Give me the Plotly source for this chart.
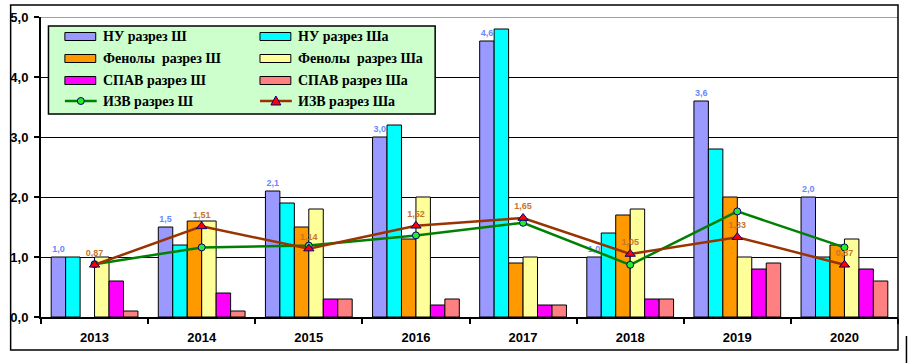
import plotly.graph_objects as go

# ---------------- data ----------------
years = ["2013", "2014", "2015", "2016", "2017", "2018", "2019", "2020"]
nu_3 = [1.0, 1.5, 2.1, 3.0, 4.6, 1.0, 3.6, 2.0]
nu_3a = [1.0, 1.2, 1.9, 3.2, 4.8, 1.4, 2.8, 1.0]
phen_3 = [None, 1.6, 1.5, 1.3, 0.9, 1.7, 2.0, 1.2]
phen_3a = [1.0, 1.6, 1.8, 2.0, 1.0, 1.8, 1.0, 1.3]
spav_3 = [0.6, 0.4, 0.3, 0.2, 0.2, 0.3, 0.8, 0.8]
spav_3a = [0.1, 0.1, 0.3, 0.3, 0.2, 0.3, 0.9, 0.6]
izv_3 = [0.88, 1.16, 1.19, 1.36, 1.57, 0.87, 1.76, 1.16]
izv_3a = [0.87, 1.51, 1.14, 1.52, 1.65, 1.05, 1.33, 0.87]

bar_names = ["НУ разрез Ш", "НУ разрез Ша", "Фенолы  разрез Ш", "Фенолы  разрез Ша",
             "СПАВ разрез Ш", "СПАВ разрез Ша"]
line_names = ["ИЗВ разрез Ш", "ИЗВ разрез Ша"]
bar_colors = ["#9999FF", "#00FFFF", "#FF9900", "#FFFF99", "#FF00FF", "#FF8080"]
y_ticks = [0, 1, 2, 3, 4, 5]

# ---------------- figure ----------------
W, H = 908, 363
L, R, T, B = 37, 898, 17, 317
PW, PH = R - L, B - T


def px(x):
    return (x - L) / PW


def py(y):
    return (B - y) / PH


fig = go.Figure()
bar_series = [nu_3, nu_3a, phen_3, phen_3a, spav_3, spav_3a]
for i, (name, vals, col) in enumerate(zip(bar_names, bar_series, bar_colors)):
    kw = {}
    if i == 0:
        kw = dict(texttemplate="%{y:.1f}", textposition="outside",
                  textfont=dict(family="Liberation Sans", size=9, color="#6688FF", weight="bold"),
                  constraintext="none", cliponaxis=False)
    fig.add_trace(go.Bar(x=years, y=vals, name=name, marker=dict(color=col, line=dict(color="black", width=1)),
                         showlegend=False, **kw))

fig.add_trace(go.Scatter(x=years, y=izv_3, name=line_names[0], mode="lines+markers",
                         line=dict(color="#008000", width=2.5),
                         marker=dict(symbol="circle", size=7, color="#22EE22", line=dict(color="#000080", width=1)),
                         showlegend=False, cliponaxis=False))
fig.add_trace(go.Scatter(x=years, y=izv_3a, name=line_names[1], mode="lines+markers+text",
                         line=dict(color="#993300", width=2.5),
                         marker=dict(symbol="triangle-up", size=9, color="#FF0000", line=dict(color="#000080", width=1)),
                         texttemplate="%{y:.2f}", textposition="top center",
                         textfont=dict(family="Liberation Sans", size=9, color="#C8742C", weight="bold"),
                         showlegend=False, cliponaxis=False))

shapes = []
annotations = []
# gray line at top value
shapes.append(dict(type="line", xref="paper", yref="y", x0=0, x1=1, y0=5, y1=5,
                   line=dict(color="#808080", width=1.5), layer="above"))
# outer chart frame
shapes.append(dict(type="rect", xref="paper", yref="paper", x0=px(6.5), x1=px(898), y0=py(5), y1=py(350),
                   line=dict(color="black", width=1.5), layer="above"))
shapes.append(dict(type="line", xref="paper", yref="paper", x0=px(906.5), x1=px(906.5), y0=py(336), y1=py(363),
                   line=dict(color="black", width=1.5), layer="above"))

# manual legend box
shapes.append(dict(type="rect", xref="paper", yref="paper", x0=px(44.5), x1=px(433), y0=py(26), y1=py(114),
                   fillcolor="#CCFFCC", line=dict(color="black", width=1.5), layer="above"))
rows = [36.5, 58.5, 80.5, 101]
cols = [(61, 97), (257, 293)]
for i, name in enumerate(bar_names):
    r, c = divmod(i, 2)
    sx, tx = cols[c]
    cy = rows[r]
    shapes.append(dict(type="rect", xref="paper", yref="paper", x0=px(sx), x1=px(sx + 31),
                       y0=py(cy - 4), y1=py(cy + 4), fillcolor=bar_colors[i],
                       line=dict(color="black", width=1), layer="above"))
    annotations.append(dict(xref="paper", yref="paper", x=px(tx), y=py(cy), text=name, showarrow=False,
                            xanchor="left", yanchor="middle",
                            font=dict(family="Liberation Serif", size=14, color="black", weight="bold")))
cy = rows[3]
for c, name in enumerate(line_names):
    sx, tx = cols[c]
    lc = "#008000" if c == 0 else "#993300"
    shapes.append(dict(type="line", xref="paper", yref="paper", x0=px(sx), x1=px(sx + 32),
                       y0=py(cy), y1=py(cy), line=dict(color=lc, width=2.5), layer="above"))
    mx = sx + 16
    if c == 0:
        shapes.append(dict(type="circle", xref="paper", yref="paper", x0=px(mx - 3.5), x1=px(mx + 3.5),
                           y0=py(cy - 3.5), y1=py(cy + 3.5), fillcolor="#22EE22",
                           line=dict(color="#000080", width=1), layer="above"))
    else:
        path = "M {:.5f} {:.5f} L {:.5f} {:.5f} L {:.5f} {:.5f} Z".format(
            px(mx - 5), py(cy + 4), px(mx + 5), py(cy + 4), px(mx), py(cy - 5))
        shapes.append(dict(type="path", xref="paper", yref="paper", path=path, fillcolor="#FF0000",
                           line=dict(color="#000080", width=1), layer="above"))
    annotations.append(dict(xref="paper", yref="paper", x=px(tx), y=py(cy), text=name, showarrow=False,
                            xanchor="left", yanchor="middle",
                            font=dict(family="Liberation Serif", size=14, color="black", weight="bold")))

fig.update_layout(
    width=W, height=H,
    margin=dict(l=L, r=W - R, t=T, b=H - B, pad=0),
    paper_bgcolor="white", plot_bgcolor="white",
    barmode="group", bargap=0.19, bargroupgap=0,
    separators=",.",
    showlegend=False,
    shapes=shapes, annotations=annotations,
    font=dict(family="Liberation Sans", color="black"),
)
fig.update_xaxes(type="category", tickson="boundaries", ticks="outside", ticklen=5, tickwidth=1.5,
                 tickcolor="black", showline=True, linecolor="black", linewidth=2, showgrid=False,
                 tickfont=dict(family="Liberation Sans", size=13, color="black", weight="bold"),
                 ticklabelstandoff=7)
fig.update_yaxes(range=[0, 5], tickvals=y_ticks, tickformat=".1f", ticks="outside", ticklen=5, tickwidth=1.5,
                 tickcolor="black", showline=True, linecolor="black", linewidth=2,
                 showgrid=True, gridcolor="black", gridwidth=1, zeroline=False,
                 tickfont=dict(family="Liberation Sans", size=13, color="black", weight="bold"),
                 ticklabelstandoff=3)

fig.write_html("out.html", config={"displayModeBar": False},
               post_script="document.body.style.margin='0px';")
